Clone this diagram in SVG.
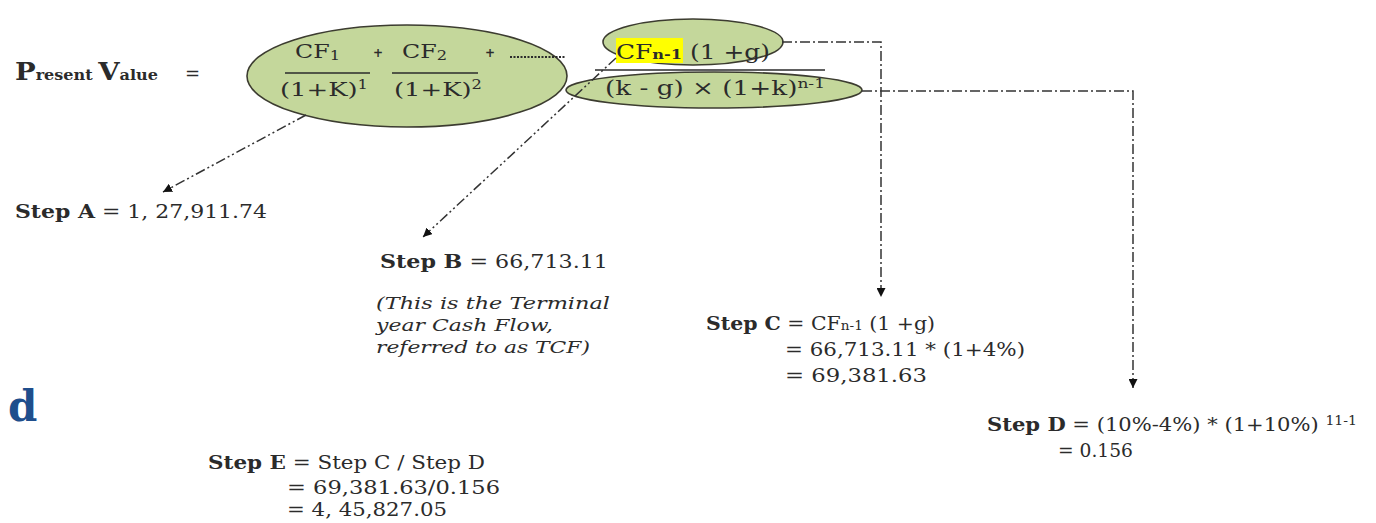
<svg xmlns="http://www.w3.org/2000/svg" width="1376" height="523" viewBox="0 0 1376 523">
  <style>
    .t { font-family: "DejaVu Serif", "Liberation Serif", serif; fill: #2b2b2b; }
    .b { font-weight: bold; }
    .i { font-style: italic; }
    .oval { fill: #c4d79b; stroke: #3c3c30; stroke-width: 1.6; }
    .bar { stroke: #2b2b2b; stroke-width: 1.3; }
    .link { fill: none; stroke: #333; stroke-width: 1.5; }
    .dd { stroke-dasharray: 10 3 2 3 2 3; }
    .d1 { stroke-dasharray: 10 3 2 3; }
  </style>
  <defs>
    <marker id="arrow" viewBox="0 0 10 10" refX="10" refY="5" markerWidth="9" markerHeight="9" markerUnits="userSpaceOnUse" orient="auto">
      <path d="M0,0 L10,5 L0,10 z" fill="#111"/>
    </marker>
  </defs>

  <rect width="1376" height="523" fill="#fff"/>

  <!-- left-hand side of the equation -->
  <g id="pv-label">
    <text class="t b" x="15" y="80" textLength="143" lengthAdjust="spacingAndGlyphs"><tspan font-size="24">P</tspan><tspan font-size="14">resent </tspan><tspan font-size="24">V</tspan><tspan font-size="14">alue</tspan></text>
    <text class="t" x="185" y="80" font-size="18">=</text>
  </g>

  <!-- discounted cash flows for years 1..n-1 -->
  <g id="node-discounted">
    <ellipse class="oval" cx="407" cy="76" rx="160" ry="51"/>
    <text class="t" x="295" y="58" font-size="19" textLength="45" lengthAdjust="spacingAndGlyphs">CF<tspan font-size="13" dy="2">1</tspan></text>
    <text class="t b" x="373" y="57" font-size="12">+</text>
    <text class="t" x="402" y="58" font-size="19" textLength="45" lengthAdjust="spacingAndGlyphs">CF<tspan font-size="13" dy="2">2</tspan></text>
    <text class="t b" x="485" y="57" font-size="12">+</text>
    <line x1="510" y1="57" x2="565" y2="57" stroke="#2b2b2b" stroke-width="2" stroke-dasharray="2 1.5"/>
    <line class="bar" x1="285" y1="73" x2="370" y2="73"/>
    <line class="bar" x1="392" y1="73" x2="478" y2="73"/>
    <text class="t" x="280" y="96" font-size="19" textLength="88" lengthAdjust="spacingAndGlyphs">(1+K)<tspan font-size="12" dy="-7">1</tspan></text>
    <text class="t" x="394" y="96" font-size="19" textLength="88" lengthAdjust="spacingAndGlyphs">(1+K)<tspan font-size="12" dy="-7">2</tspan></text>
  </g>

  <!-- terminal value numerator -->
  <g id="node-numerator">
    <ellipse class="oval" cx="693" cy="42" rx="90" ry="23"/>
    <rect x="616" y="38" width="67" height="25" fill="#ffff00"/>
    <text class="t" x="616" y="59" font-size="20" textLength="154" lengthAdjust="spacingAndGlyphs">CF<tspan font-size="13" font-weight="bold">n-1</tspan> (1 +g)</text>
  </g>

  <!-- terminal value denominator -->
  <g id="node-denominator">
    <ellipse class="oval" cx="714" cy="90" rx="148" ry="18"/>
    <line class="bar" x1="595" y1="70" x2="825" y2="70"/>
    <text class="t" x="605" y="95" font-size="20" textLength="220" lengthAdjust="spacingAndGlyphs">(k - g) × (1+k)<tspan font-size="13" dy="-7">n-1</tspan></text>
  </g>

  <!-- connectors -->
  <g id="connectors">
    <line class="link dd" x1="306" y1="115" x2="163" y2="192" marker-end="url(#arrow)"/>
    <line class="link dd" x1="616" y1="58" x2="423" y2="237" marker-end="url(#arrow)"/>
    <path class="link d1" d="M782,42 H881 V297" marker-end="url(#arrow)"/>
    <path class="link d1" d="M862,91 H1133 V388" marker-end="url(#arrow)"/>
  </g>

  <g id="step-a">
    <text class="t" x="15" y="218" font-size="18" textLength="252" lengthAdjust="spacingAndGlyphs"><tspan class="b">Step A</tspan> = 1, 27,911.74</text>
  </g>

  <g id="step-b">
    <text class="t" x="380" y="268" font-size="18" textLength="228" lengthAdjust="spacingAndGlyphs"><tspan class="b">Step B</tspan> = 66,713.11</text>
    <text class="t i" x="376" y="309" font-size="17" textLength="234" lengthAdjust="spacingAndGlyphs">(This is the Terminal</text>
    <text class="t i" x="376" y="331" font-size="17" textLength="177" lengthAdjust="spacingAndGlyphs">year Cash Flow,</text>
    <text class="t i" x="376" y="353" font-size="17" textLength="214" lengthAdjust="spacingAndGlyphs">referred to as TCF)</text>
  </g>

  <g id="step-c">
    <text class="t" x="706" y="330" font-size="18" textLength="229" lengthAdjust="spacingAndGlyphs"><tspan class="b">Step C</tspan> = CF<tspan font-size="12">n-1</tspan> (1 +g)</text>
    <text class="t" x="785" y="356" font-size="18" textLength="240" lengthAdjust="spacingAndGlyphs">= 66,713.11 * (1+4%)</text>
    <text class="t" x="785" y="382" font-size="18" textLength="142" lengthAdjust="spacingAndGlyphs">= 69,381.63</text>
  </g>

  <g id="step-d">
    <text class="t" x="987" y="431" font-size="18" textLength="370" lengthAdjust="spacingAndGlyphs"><tspan class="b">Step D</tspan> = (10%-4%) * (1+10%) <tspan font-size="12" dy="-6">11-1</tspan></text>
    <text class="t" x="1058" y="457" font-size="18" textLength="75" lengthAdjust="spacingAndGlyphs">= 0.156</text>
  </g>

  <g id="step-e">
    <text class="t" x="208" y="469" font-size="18" textLength="277" lengthAdjust="spacingAndGlyphs"><tspan class="b">Step E</tspan> = Step C / Step D</text>
    <text class="t" x="287" y="494" font-size="18" textLength="213" lengthAdjust="spacingAndGlyphs">= 69,381.63/0.156</text>
    <text class="t" x="287" y="516" font-size="18" textLength="160" lengthAdjust="spacingAndGlyphs">= 4, 45,827.05</text>
  </g>

  <text x="8" y="421" font-family="'DejaVu Serif', 'Liberation Serif', serif" font-weight="bold" font-size="42" fill="#1f4e8c">d</text>
</svg>
